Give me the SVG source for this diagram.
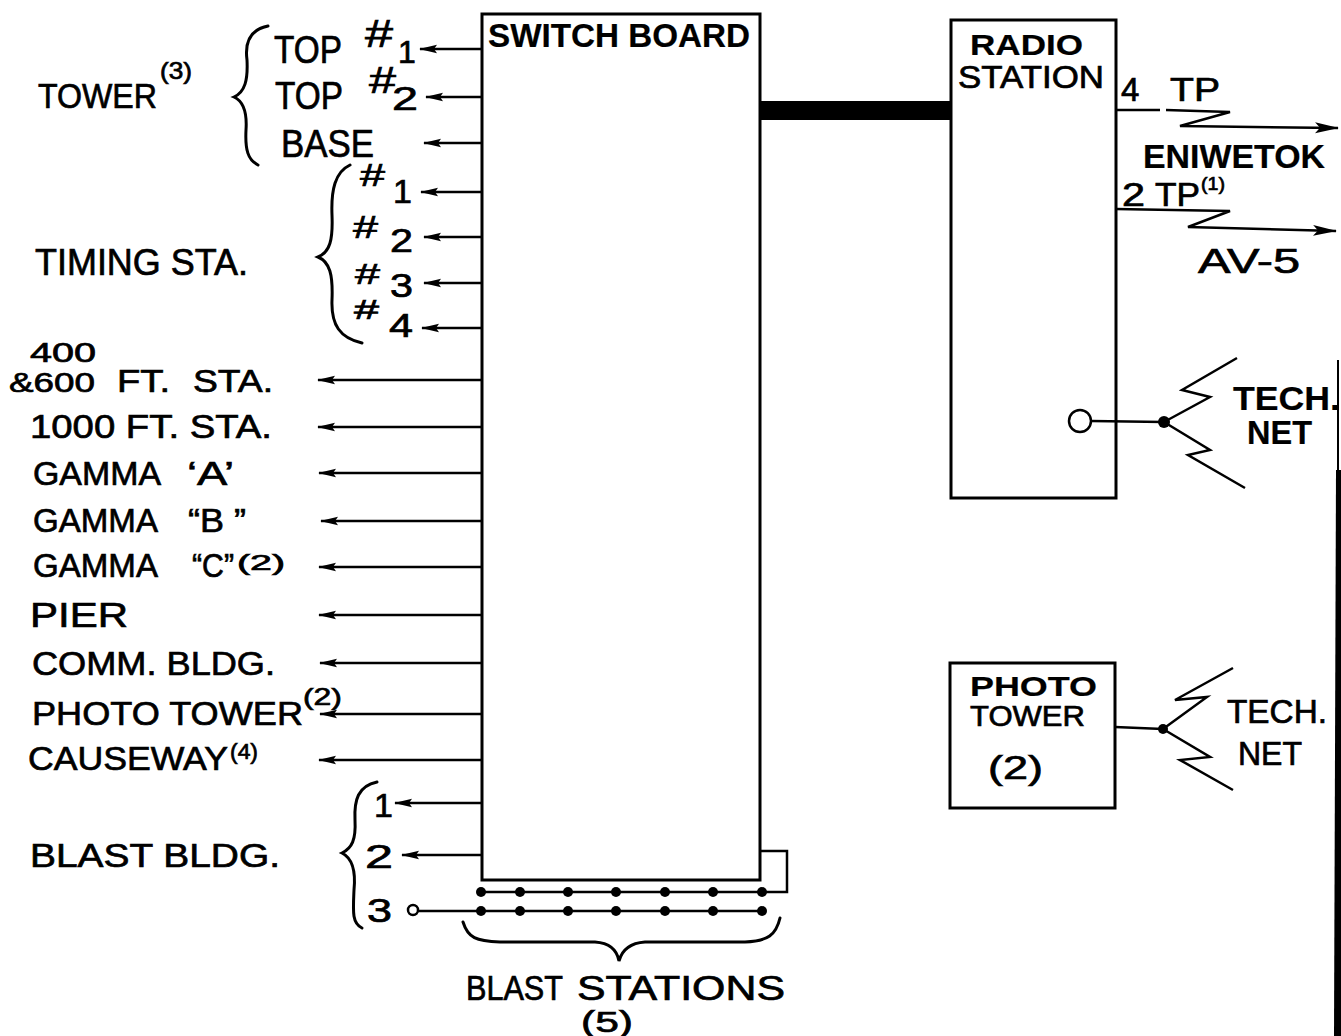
<svg xmlns="http://www.w3.org/2000/svg" width="1341" height="1036" viewBox="0 0 1341 1036">
<style>
text{font-family:"Liberation Sans",Arial,sans-serif;fill:#000;stroke:#000;stroke-width:0.7;}
.b{font-weight:bold;stroke-width:0.2;}
.box{fill:none;stroke:#000;stroke-width:3;}
.ln{fill:none;stroke:#000;stroke-width:2.5;}
.br{fill:none;stroke:#000;stroke-width:3;stroke-linecap:round;}
.arr{fill:none;stroke:#000;stroke-width:2.5;marker-end:url(#ah);}
.arr2{fill:none;stroke:#000;stroke-width:2.5;marker-end:url(#ah2);}
.dot{fill:#000;}
</style>
<defs>
<marker id="ah" markerUnits="userSpaceOnUse" markerWidth="18" markerHeight="10" refX="17" refY="5" orient="auto"><path d="M0,0.8 L18,5 L0,9.2 L3,5 Z" fill="#000"/></marker>
<marker id="ah2" markerUnits="userSpaceOnUse" markerWidth="24" markerHeight="12" refX="23" refY="6" orient="auto"><path d="M0,0.5 L24,6 L0,11.5 L5,6 Z" fill="#000"/></marker>
</defs>

<g id="switchboard">
<rect class="box" x="482" y="14" width="278" height="866"/>
<text class="b" x="488" y="47" font-size="33" textLength="262" lengthAdjust="spacingAndGlyphs">SWITCH BOARD</text>
</g>

<g id="radio-station">
<rect class="box" x="951" y="20" width="165" height="478"/>
<text class="b" x="970" y="55" font-size="29" textLength="113" lengthAdjust="spacingAndGlyphs">RADIO</text>
<text x="958" y="88" font-size="32" textLength="146" lengthAdjust="spacingAndGlyphs">STATION</text>
</g>

<g id="photo-tower-box">
<rect class="box" x="950" y="663" width="165" height="145"/>
<text class="b" x="970" y="696" font-size="28" textLength="127" lengthAdjust="spacingAndGlyphs">PHOTO</text>
<text x="970" y="726" font-size="29" textLength="115" lengthAdjust="spacingAndGlyphs">TOWER</text>
<text x="988" y="779" font-size="33" textLength="55" lengthAdjust="spacingAndGlyphs">(2)</text>
</g>

<g id="tower">
<text x="38" y="108" font-size="35" textLength="119" lengthAdjust="spacingAndGlyphs">TOWER</text>
<text x="160" y="79" font-size="24" textLength="32" lengthAdjust="spacingAndGlyphs">(3)</text>
<path class="br" d="M268,26 C248,30 245,45 247,60 C248,80 245,92 234,97 C245,102 247,115 246,130 C245,150 248,160 258,165"/>
<text x="274" y="63" font-size="38" textLength="68" lengthAdjust="spacingAndGlyphs">TOP</text>
<text x="365" y="47" font-size="38" textLength="28" lengthAdjust="spacingAndGlyphs">#</text>
<text x="398" y="63" font-size="32">1</text>
<text x="275" y="109" font-size="38" textLength="68" lengthAdjust="spacingAndGlyphs">TOP</text>
<text x="369" y="93" font-size="36" textLength="27" lengthAdjust="spacingAndGlyphs">#</text>
<text x="392" y="110" font-size="34" textLength="26" lengthAdjust="spacingAndGlyphs">2</text>
<text x="281" y="157" font-size="38" textLength="93" lengthAdjust="spacingAndGlyphs">BASE</text>
</g>

<g id="timing">
<text x="35" y="275" font-size="37" textLength="213" lengthAdjust="spacingAndGlyphs">TIMING STA.</text>
<path class="br" d="M350,165 C335,172 331,190 332,215 C333,240 330,252 318,257 C330,262 333,275 332,300 C331,325 340,338 362,343"/>
<text x="360" y="186" font-size="31" textLength="25" lengthAdjust="spacingAndGlyphs">#</text>
<text x="393" y="203" font-size="34">1</text>
<text x="353" y="238" font-size="31" textLength="25" lengthAdjust="spacingAndGlyphs">#</text>
<text x="390" y="252" font-size="34" textLength="23" lengthAdjust="spacingAndGlyphs">2</text>
<text x="355" y="284" font-size="30" textLength="25" lengthAdjust="spacingAndGlyphs">#</text>
<text x="390" y="297" font-size="34" textLength="23" lengthAdjust="spacingAndGlyphs">3</text>
<text x="354" y="319" font-size="28" textLength="25" lengthAdjust="spacingAndGlyphs">#</text>
<text x="389" y="337" font-size="34" textLength="24" lengthAdjust="spacingAndGlyphs">4</text>
</g>

<g id="stations">
<text x="30" y="362" font-size="27" textLength="66" lengthAdjust="spacingAndGlyphs">400</text>
<text x="9" y="392" font-size="28" textLength="86" lengthAdjust="spacingAndGlyphs">&amp;600</text>
<text x="117" y="392" font-size="31" textLength="53" lengthAdjust="spacingAndGlyphs">FT.</text>
<text x="193" y="392" font-size="31" textLength="80" lengthAdjust="spacingAndGlyphs">STA.</text>
<text x="30" y="438" font-size="34" textLength="242" lengthAdjust="spacingAndGlyphs">1000 FT. STA.</text>
<text x="33" y="485" font-size="34" textLength="128" lengthAdjust="spacingAndGlyphs">GAMMA</text>
<text x="187" y="485" font-size="34" textLength="47" lengthAdjust="spacingAndGlyphs">‘A’</text>
<text x="33" y="532" font-size="34" textLength="125" lengthAdjust="spacingAndGlyphs">GAMMA</text>
<text x="188" y="532" font-size="34" textLength="58" lengthAdjust="spacingAndGlyphs">“B ”</text>
<text x="33" y="577" font-size="34" textLength="125" lengthAdjust="spacingAndGlyphs">GAMMA</text>
<text x="192" y="577" font-size="34" textLength="42" lengthAdjust="spacingAndGlyphs">“C”</text>
<text x="237" y="570" font-size="22" textLength="48" lengthAdjust="spacingAndGlyphs">(2)</text>
<text x="30" y="627" font-size="35" textLength="98" lengthAdjust="spacingAndGlyphs">PIER</text>
<text x="32" y="675" font-size="34" textLength="243" lengthAdjust="spacingAndGlyphs">COMM. BLDG.</text>
<text x="32" y="725" font-size="34" textLength="271" lengthAdjust="spacingAndGlyphs">PHOTO TOWER</text>
<text x="303" y="705" font-size="24" textLength="39" lengthAdjust="spacingAndGlyphs">(2)</text>
<text x="28" y="770" font-size="34" textLength="200" lengthAdjust="spacingAndGlyphs">CAUSEWAY</text>
<text x="230" y="759" font-size="22" textLength="28" lengthAdjust="spacingAndGlyphs">(4)</text>
</g>

<g id="blast-bldg">
<text x="30" y="867" font-size="34" textLength="250" lengthAdjust="spacingAndGlyphs">BLAST BLDG.</text>
<path class="br" d="M377,782 C358,786 354,800 355,820 C356,840 352,848 342,853 C352,858 356,870 354,890 C353,912 352,923 362,928"/>
<text x="374" y="817" font-size="34">1</text>
<text x="365" y="868" font-size="34" textLength="28" lengthAdjust="spacingAndGlyphs">2</text>
<text x="367" y="922" font-size="33" textLength="25" lengthAdjust="spacingAndGlyphs">3</text>
</g>

<g id="blast-stations">
<path class="br" d="M463,922 C468,938 476,941 500,942 L595,942 C610,943 617,950 619,961 C622,950 630,943 645,942 L745,942 C768,941 776,935 780,918"/>
<text x="466" y="1000" font-size="35" textLength="97" lengthAdjust="spacingAndGlyphs">BLAST</text>
<text x="577" y="1000" font-size="35" textLength="208" lengthAdjust="spacingAndGlyphs">STATIONS</text>
<text x="581" y="1032" font-size="29" textLength="52" lengthAdjust="spacingAndGlyphs">(5)</text>
</g>

<g id="radio-links">
<text x="1121" y="101" font-size="33">4</text>
<text x="1170" y="101" font-size="33" textLength="50" lengthAdjust="spacingAndGlyphs">TP</text>
<text class="b" x="1143" y="168" font-size="33" textLength="182" lengthAdjust="spacingAndGlyphs">ENIWETOK</text>
<text x="1122" y="206" font-size="33" textLength="23" lengthAdjust="spacingAndGlyphs">2</text>
<text x="1155" y="206" font-size="33" textLength="45" lengthAdjust="spacingAndGlyphs">TP</text>
<text x="1201" y="190" font-size="18" textLength="24" lengthAdjust="spacingAndGlyphs">(1)</text>
<text x="1198" y="273" font-size="35" textLength="102" lengthAdjust="spacingAndGlyphs">AV-5</text>
</g>

<g id="tech-net-1">
<text class="b" x="1233" y="410" font-size="33" textLength="107" lengthAdjust="spacingAndGlyphs">TECH.</text>
<text class="b" x="1247" y="444" font-size="33" textLength="65" lengthAdjust="spacingAndGlyphs">NET</text>
</g>

<g id="tech-net-2">
<text x="1227" y="723" font-size="33" textLength="100" lengthAdjust="spacingAndGlyphs">TECH.</text>
<text x="1238" y="765" font-size="33" textLength="64" lengthAdjust="spacingAndGlyphs">NET</text>
</g>

<g id="connectors">
<line class="arr" x1="482" y1="49" x2="420" y2="49"/>
<line class="arr" x1="482" y1="97" x2="426" y2="97"/>
<line class="arr" x1="482" y1="143" x2="424" y2="143"/>
<line class="arr" x1="482" y1="192" x2="421" y2="192"/>
<line class="arr" x1="482" y1="237" x2="424" y2="237"/>
<line class="arr" x1="482" y1="283" x2="424" y2="283"/>
<line class="arr" x1="482" y1="328" x2="422" y2="328"/>
<line class="arr" x1="482" y1="380" x2="318" y2="380"/>
<line class="arr" x1="482" y1="427" x2="318" y2="427"/>
<line class="arr" x1="482" y1="473" x2="319" y2="473"/>
<line class="arr" x1="482" y1="521" x2="321" y2="521"/>
<line class="arr" x1="482" y1="567" x2="319" y2="567"/>
<line class="arr" x1="482" y1="615" x2="319" y2="615"/>
<line class="arr" x1="482" y1="663" x2="320" y2="663"/>
<line class="arr" x1="482" y1="714" x2="320" y2="714"/>
<line class="arr" x1="482" y1="760" x2="319" y2="760"/>
<line class="arr" x1="482" y1="803" x2="395" y2="803"/>
<line class="arr" x1="482" y1="855" x2="402" y2="855"/>

<polyline class="ln" points="760,851 787,851 787,892 481,892"/>
<line class="ln" x1="418" y1="911" x2="762" y2="911"/>
<circle cx="413" cy="910" r="5" fill="#fff" stroke="#000" stroke-width="2.5"/>
<g class="dot">
<circle cx="481" cy="892" r="5"/><circle cx="520" cy="892" r="5"/><circle cx="568" cy="892" r="5"/><circle cx="616" cy="892" r="5"/><circle cx="665" cy="892" r="5"/><circle cx="713" cy="892" r="5"/><circle cx="762" cy="892" r="5"/>
<circle cx="481" cy="911" r="5"/><circle cx="520" cy="911" r="5"/><circle cx="568" cy="911" r="5"/><circle cx="616" cy="911" r="5"/><circle cx="665" cy="911" r="5"/><circle cx="713" cy="911" r="5"/><circle cx="762" cy="911" r="5"/>
</g>

<rect x="760" y="101" width="192" height="19" fill="#000"/>

<line class="ln" x1="1116" y1="110" x2="1160" y2="110"/>
<polyline class="arr2" points="1166,110 1230,112 1180,126 1338,128"/>
<polyline class="arr2" points="1116,209 1230,211 1188,227 1336,231"/>

<circle cx="1080" cy="421" r="11" fill="#fff" stroke="#000" stroke-width="2.5"/>
<line class="ln" x1="1091" y1="421" x2="1164" y2="422"/>
<circle class="dot" cx="1164" cy="422" r="6"/>
<polyline class="ln" points="1164,422 1210,397 1182,390 1237,358"/>
<polyline class="ln" points="1164,422 1210,450 1188,455 1245,488"/>

<line class="ln" x1="1115" y1="727" x2="1163" y2="729"/>
<circle class="dot" cx="1163" cy="729" r="5"/>
<polyline class="ln" points="1163,729 1207,697 1175,700 1233,668"/>
<polyline class="ln" points="1163,729 1210,757 1180,760 1233,790"/>
</g>

<g id="page-edge">
<line x1="1338" y1="360" x2="1338" y2="470" stroke="#000" stroke-width="2"/>
<polygon points="1336,470 1341,470 1341,1036 1334,1036" fill="#000"/>
</g>
</svg>
